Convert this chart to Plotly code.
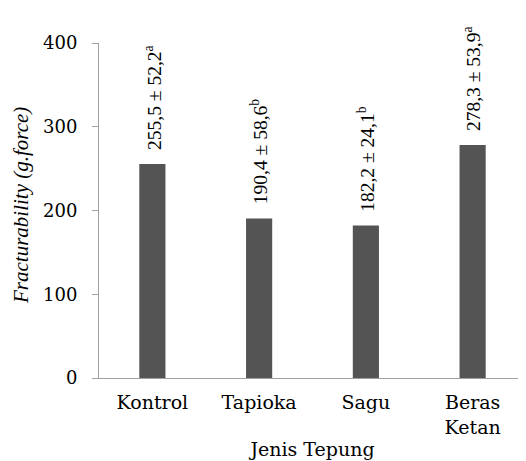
import plotly.graph_objects as go

categories = ["Kontrol", "Tapioka", "Sagu", "Beras<br>Ketan"]
values = [255.5, 190.4, 182.2, 278.3]
sd = ["52,2", "58,6", "24,1", "53,9"]
letters = ["a", "b", "b", "a"]
mean_txt = ["255,5", "190,4", "182,2", "278,3"]
y_ticks = [0, 100, 200, 300, 400]

serif = "Liberation Serif"
wide_serif = "DejaVu Serif"

fig = go.Figure()
fig.add_trace(go.Bar(
    x=categories, y=values,
    marker=dict(color="#545454", line=dict(width=0)),
    width=0.245,
))

for c, v, m, s, l in zip(categories, values, mean_txt, sd, letters):
    fig.add_annotation(
        x=c, y=v, xref="x", yref="y",
        text=f"{m} ± {s}<sup>{l}</sup>",
        textangle=-90, showarrow=False,
        xanchor="center", yanchor="bottom", yshift=12,
        font=dict(family=serif, size=19.5, color="#000000"),
    )

# y-axis title placed as a rotated annotation (slightly above plot centre, as in reference)
fig.add_annotation(
    x=-0.183, y=0.516, xref="paper", yref="paper",
    text="<i>Fracturability (g.force)</i>",
    textangle=-90, showarrow=False,
    xanchor="center", yanchor="middle",
    font=dict(family=serif, size=21, color="#000000"),
)

# page body has an 8px default margin; figure sized to fit the window
fig.update_layout(
    width=518, height=453,
    margin=dict(l=91, r=0, t=35, b=83),
    paper_bgcolor="white", plot_bgcolor="white",
    showlegend=False,
    xaxis=dict(
        range=[-0.5, 3.5],
        showline=True, linecolor="#a0a0a0", linewidth=1,
        ticks="", showgrid=False, zeroline=False,
        tickfont=dict(family=wide_serif, size=19, color="#000000"),
        ticklabelstandoff=7,
        title=dict(text="Jenis Tepung", font=dict(family=wide_serif, size=19, color="#000000"), standoff=6),
        automargin=False,
    ),
    yaxis=dict(
        range=[0, 400], tickvals=y_ticks,
        showline=True, linecolor="#a0a0a0", linewidth=1,
        ticks="outside", ticklen=6, tickcolor="#a0a0a0",
        showgrid=False, zeroline=False,
        tickfont=dict(family=wide_serif, size=18, color="#000000"),
        ticklabelstandoff=11,
        automargin=False,
    ),
)

fig.write_html("out.html")
